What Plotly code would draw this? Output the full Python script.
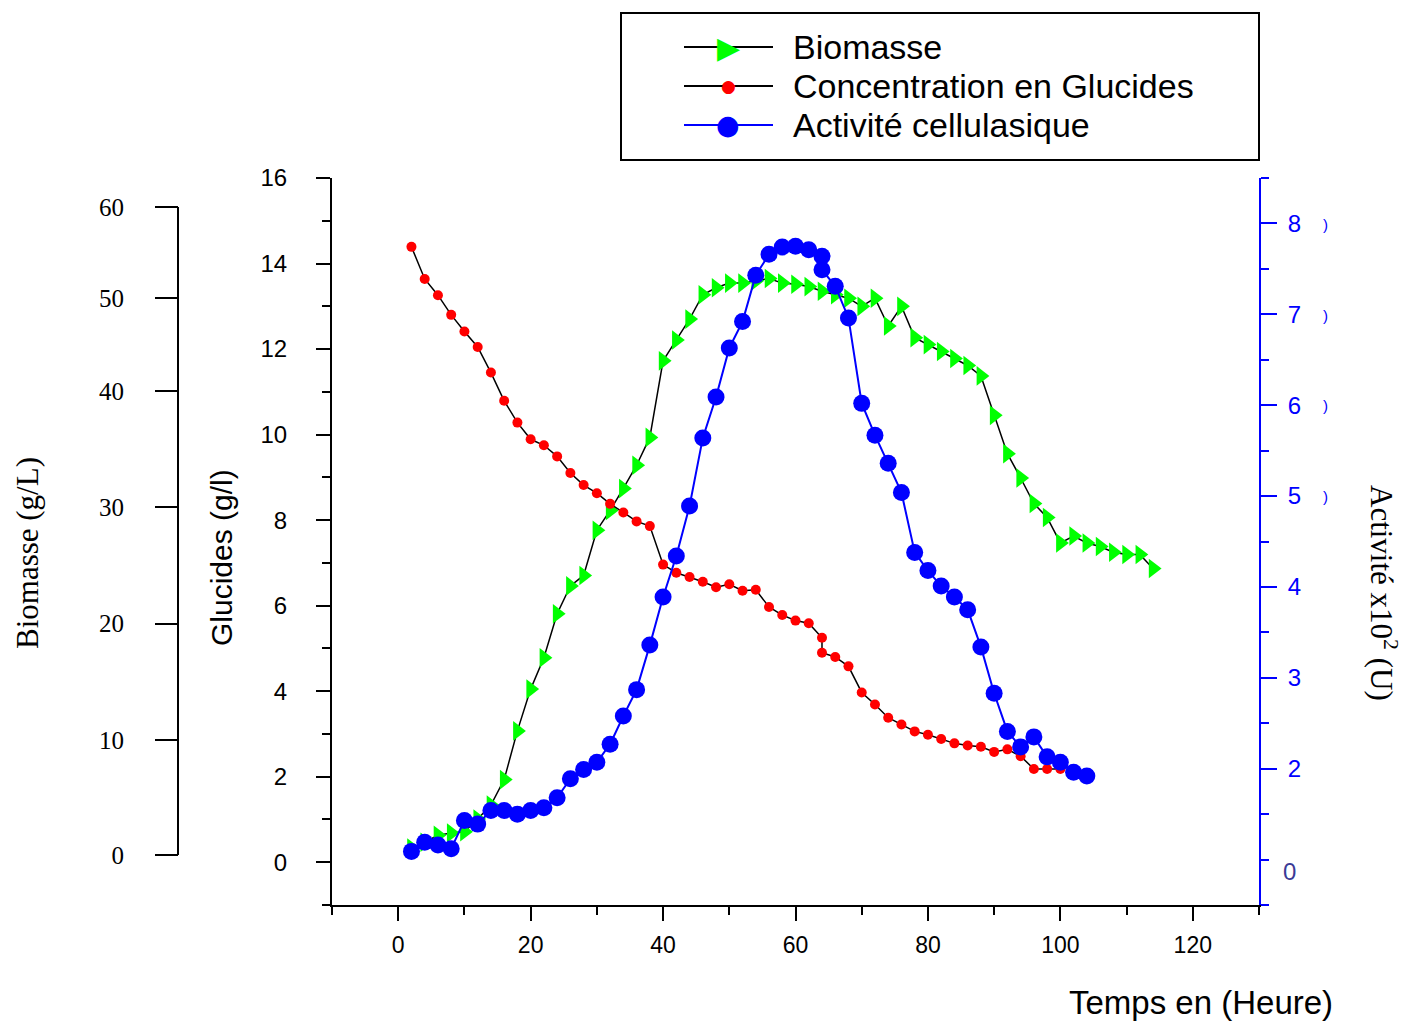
import plotly.graph_objects as go

# ---- data -------------------------------------------------------------
temps_biomasse = [2, 4, 6, 8, 10, 12, 14, 16, 18, 20, 22, 24, 26, 28, 30, 32, 34, 36, 38,
                  40, 42, 44, 46, 48, 50, 52, 54, 56, 58, 60, 62, 64, 66, 68, 70, 72, 74,
                  76, 78, 80, 82, 84, 86, 88, 90, 92, 94, 96, 98, 100, 102, 104, 106, 108,
                  110, 112, 114]
biomasse = [0.6, 1.1, 1.7, 1.9, 2.0, 3.1, 4.3, 6.5, 10.7, 14.3, 17.0, 20.8, 23.2, 24.1,
            28.0, 29.7, 31.6, 33.6, 36.0, 42.6, 44.4, 46.2, 48.3, 48.9, 49.3, 49.3, 49.5,
            49.7, 49.3, 49.2, 49.0, 48.6, 48.3, 48.0, 47.3, 48.0, 45.6, 47.3, 44.6, 44.0,
            43.4, 42.8, 42.2, 41.3, 37.9, 34.6, 32.5, 30.3, 29.1, 26.9, 27.5, 26.9, 26.6,
            26.1, 25.9, 25.9, 24.7]

temps_glucides = [2, 4, 6, 8, 10, 12, 14, 16, 18, 20, 22, 24, 26, 28, 30, 32, 34, 36, 38,
                  40, 42, 44, 46, 48, 50, 52, 54, 56, 58, 60, 62, 64, 64, 66, 68, 70, 72,
                  74, 76, 78, 80, 82, 84, 86, 88, 90, 92, 94, 96, 98, 100]
glucides = [14.39, 13.64, 13.26, 12.80, 12.41, 12.05, 11.45, 10.79, 10.28, 9.89, 9.75,
            9.49, 9.10, 8.82, 8.63, 8.38, 8.18, 7.97, 7.86, 6.96, 6.77, 6.67, 6.56, 6.43,
            6.50, 6.35, 6.37, 5.97, 5.78, 5.65, 5.59, 5.25, 4.90, 4.80, 4.58, 3.97, 3.69,
            3.38, 3.22, 3.06, 2.98, 2.88, 2.78, 2.73, 2.70, 2.58, 2.64, 2.48, 2.18, 2.18,
            2.18]

temps_activite = [2, 4, 6, 8, 10, 12, 14, 16, 18, 20, 22, 24, 26, 28, 30, 32, 34, 36, 38,
                  40, 42, 44, 46, 48, 50, 52, 54, 56, 58, 60, 62, 64, 64, 66, 68, 70, 72,
                  74, 76, 78, 80, 82, 84, 86, 88, 90, 92, 94, 96, 98, 100, 102, 104]
activite = [1.09, 1.19, 1.16, 1.12, 1.43, 1.39, 1.54, 1.54, 1.50, 1.54, 1.57, 1.68, 1.89,
            1.99, 2.07, 2.27, 2.58, 2.87, 3.36, 3.89, 4.34, 4.89, 5.64, 6.09, 6.63, 6.92,
            7.43, 7.66, 7.74, 7.75, 7.71, 7.64, 7.49, 7.31, 6.96, 6.02, 5.67, 5.36, 5.04,
            4.38, 4.18, 4.01, 3.89, 3.75, 3.34, 2.83, 2.41, 2.24, 2.35, 2.13, 2.07, 1.96,
            1.92]

biomasse_tick_labels = ["0", "10", "20", "30", "40", "50", "60"]
glucides_tick_labels = ["0", "2", "4", "6", "8", "10", "12", "14", "16"]
activite_tick_labels = ["2", "3", "4", "5", "6", "7", "8"]

# ---- page geometry (pixels) --------------------------------------------
W, H = 1409, 1022


def fx(p):
    return p / W


def fy(p):
    return 1 - p / H


PLOT_L, PLOT_R, PLOT_T, PLOT_B = 332, 1259, 178, 905

# biomass scale: zero row and pixels per g/L, plus rows of its drawn ticks
BIO_ZERO_PX, BIO_PX_PER_UNIT = 855, 11.6
BIO_TICK_ROWS = [855, 740, 623.5, 507, 391, 298, 207]


def bio_val(row):
    return (BIO_ZERO_PX - row) / BIO_PX_PER_UNIT


bio_range = [bio_val(PLOT_B), bio_val(PLOT_T)]
bio_tickvals = [bio_val(r) for r in BIO_TICK_ROWS]

SANS = "Liberation Sans, Arial, sans-serif"
SERIF = "Liberation Serif, Times New Roman, serif"
BLUE = "#0000ff"

fig = go.Figure()

fig.add_trace(go.Scatter(
    x=temps_biomasse, y=biomasse, name="Biomasse", mode="lines+markers",
    line=dict(color="black", width=1.5),
    marker=dict(symbol="triangle-right", size=17, color="#00ff00"),
    yaxis="y", cliponaxis=False, showlegend=False))

fig.add_trace(go.Scatter(
    x=temps_glucides, y=glucides, name="Concentration en Glucides", mode="lines+markers",
    line=dict(color="black", width=1.5),
    marker=dict(symbol="circle", size=10, color="#ff0000"),
    yaxis="y2", cliponaxis=False, showlegend=False))

fig.add_trace(go.Scatter(
    x=temps_activite, y=activite, name="Activité cellulasique", mode="lines+markers",
    line=dict(color=BLUE, width=2),
    marker=dict(symbol="circle", size=17, color=BLUE),
    yaxis="y3", cliponaxis=False, showlegend=False))

x_common = dict(range=[-10, 130], tick0=0, dtick=20, showgrid=False, zeroline=False,
                showline=True, linewidth=2, linecolor="black", tickwidth=2,
                tickcolor="black", automargin=False)

fig.update_layout(
    template="none",
    width=W, height=H,
    margin=dict(l=0, r=0, t=0, b=0, pad=0, autoexpand=False),
    paper_bgcolor="white", plot_bgcolor="white",
    showlegend=False,
    xaxis=dict(
        domain=[fx(PLOT_L), fx(PLOT_R)], anchor="y", ticks="outside", ticklen=14,
        minor=dict(dtick=10, ticks="outside", ticklen=8, tickwidth=2, tickcolor="black"),
        tickfont=dict(family=SANS, size=23, color="black"), ticklabelstandoff=4,
        **x_common),
    xaxis2=dict(
        overlaying="x", side="top", anchor="y", ticks="inside", ticklen=13,
        minor=dict(dtick=10, ticks="inside", ticklen=7, tickwidth=2, tickcolor="black"),
        showticklabels=False, **x_common),
    yaxis=dict(
        domain=[fy(PLOT_B), fy(PLOT_T)], range=bio_range, anchor="free",
        position=fx(178), side="left", tickmode="array", tickvals=bio_tickvals,
        ticktext=biomasse_tick_labels, ticks="outside", ticklen=23, tickwidth=2,
        tickcolor="black", showline=False, showgrid=False, zeroline=False,
        automargin=False,
        tickfont=dict(family=SERIF, size=25, color="black"), ticklabelstandoff=26),
    yaxis2=dict(
        overlaying="y", side="left", anchor="x", range=[-1, 16], tickmode="array",
        tickvals=[0, 2, 4, 6, 8, 10, 12, 14, 16], ticktext=glucides_tick_labels,
        ticks="outside", ticklen=14, tickwidth=2, tickcolor="black",
        minor=dict(dtick=1, tick0=0, ticks="outside", ticklen=8, tickwidth=2,
                   tickcolor="black"),
        showline=True, linewidth=2, linecolor="black", showgrid=False, zeroline=False,
        automargin=False,
        tickfont=dict(family=SANS, size=24, color="black"), ticklabelstandoff=24),
    yaxis3=dict(
        overlaying="y", side="right", anchor="x", range=[0.5, 8.5], tickmode="array",
        tickvals=[2, 3, 4, 5, 6, 7, 8], ticktext=activite_tick_labels,
        ticks="outside", ticklen=16, tickwidth=2, tickcolor=BLUE,
        minor=dict(dtick=0.5, tick0=0.5, ticks="outside", ticklen=8, tickwidth=2,
                   tickcolor=BLUE),
        showline=True, linewidth=2, linecolor=BLUE, showgrid=False, zeroline=False,
        automargin=False,
        tickfont=dict(family=SANS, size=24, color=BLUE), ticklabelstandoff=6),
)

shapes = [
    # biomass axis spine
    dict(type="line", xref="paper", yref="y", x0=fx(178), x1=fx(178),
         y0=bio_tickvals[0], y1=bio_tickvals[-1], line=dict(color="black", width=2)),
    # legend frame
    dict(type="rect", xref="paper", yref="paper", x0=fx(621), x1=fx(1259),
         y0=fy(160), y1=fy(13), line=dict(color="black", width=2),
         fillcolor="rgba(0,0,0,0)"),
]

legend_rows = [
    ("Biomasse", 47, "black", "\u25B6", "#00ff00", 30),
    ("Concentration en Glucides", 86, "black", "\u25CF", "#ff0000", 17),
    ("Activité cellulasique", 125, BLUE, "\u25CF", BLUE, 27),
]


def note(x, y, text, font, **kw):
    d = dict(x=fx(x), y=fy(y), xref="paper", yref="paper", text=text,
             showarrow=False, xanchor="center", yanchor="middle", font=font)
    d.update(kw)
    return d


annotations = []
for label, row, line_col, glyph, glyph_col, glyph_size in legend_rows:
    shapes.append(dict(type="line", xref="paper", yref="paper", x0=fx(684), x1=fx(773),
                       y0=fy(row), y1=fy(row), line=dict(color=line_col, width=2)))
    annotations.append(note(728, row, glyph,
                            dict(family="DejaVu Sans", size=glyph_size, color=glyph_col)))
    annotations.append(note(791, row, label, dict(family=SANS, size=34, color="black"),
                            xanchor="left"))

annotations += [
    note(27, 553, "Biomasse (g/L)", dict(family=SERIF, size=31, color="black"),
         textangle=-90),
    note(221, 558, "Glucides (g/l)", dict(family=SANS, size=30, color="black"),
         textangle=-90),
    note(1384, 593, "Activité x10<sup>2</sup> (U)",
         dict(family=SERIF, size=31, color="black"), textangle=90),
    note(1201, 1002, "Temps en (Heure)", dict(family=SANS, size=33, color="black")),
    note(1289, 871, "0", dict(family=SANS, size=24, color="#3b3b96")),
]
for row in (224, 315, 405, 496):
    annotations.append(note(1325, row, ")", dict(family=SANS, size=15, color=BLUE)))

fig.update_layout(shapes=shapes, annotations=annotations)

fig.write_html("out.html")
